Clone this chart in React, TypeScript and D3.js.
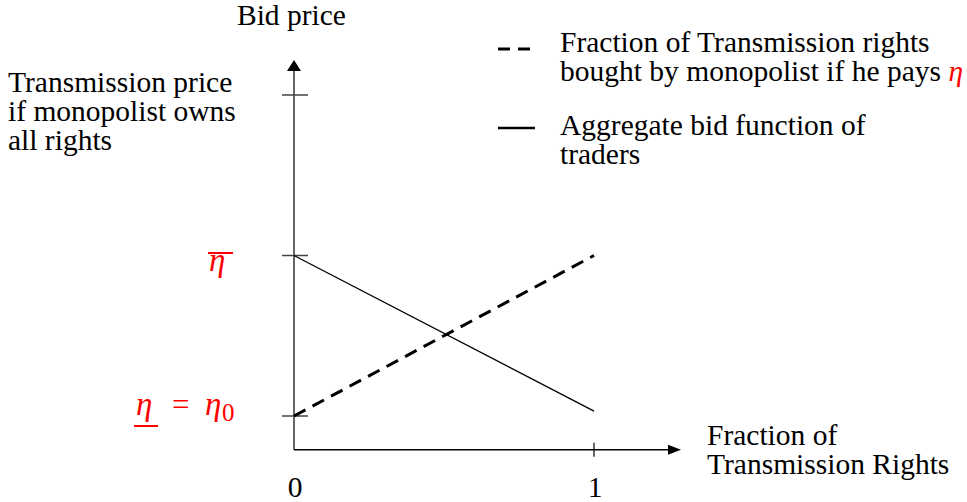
import React from 'react';
import * as d3 from 'd3';

// chart values
const fractions = [0, 1];
const bidFunction = [2, 1.03]; // aggregate bid function of traders
const monopolistFraction = [1, 2]; // fraction bought by monopolist if he pays eta
const yTicks = [1, 2, 3]; // eta0, eta-bar, transmission price if monopolist owns all
const xTicks = [1];
const xTickLabels = ['0', '1'];
const axisOrigin = 0.79;

const legendDashed = ['Fraction of Transmission rights', 'bought by monopolist if he pays '];
const legendSolid = ['Aggregate bid function of', 'traders'];
const leftLabel = ['Transmission price', 'if monopolist owns', 'all rights'];
const xTitle = ['Fraction of', 'Transmission Rights'];

const App = () => {
  const width = 967;
  const height = 502;
  const font = "'Liberation Serif', 'Times New Roman', Times, 'DejaVu Serif', serif";

  const x = d3.scaleLinear().domain([0, 1]).range([294, 594]);
  const y = d3.scaleLinear().domain([1, 3]).range([416, 95]);

  const x0 = x(0);
  const y0 = y(axisOrigin);

  const line = d3.line<[number, number]>()
    .x(d => x(d[0]))
    .y(d => y(d[1]));

  const solidPts = fractions.map((f, i) => [f, bidFunction[i]] as [number, number]);
  const dashPts = fractions.map((f, i) => [f, monopolistFraction[i]] as [number, number]);

  return (
    <svg width={width} height={height} style={{ position: 'absolute', left: 0, top: 0, fontFamily: font, fontSize: 29.5 }}>
      <rect width={width} height={height} fill="#fff" />

      {/* y axis */}
      <line x1={x0} y1={y0} x2={x0} y2={70} stroke="#666" strokeWidth={2} />
      <path d={`M${x0},60 L${x0 - 7},71 L${x0 + 7},71 Z`} fill="#000" />
      {yTicks.map(t => (
        <line key={t} x1={x0 - 12} x2={x0 + 14} y1={y(t)} y2={y(t)} stroke="#444" strokeWidth={1.5} />
      ))}

      {/* x axis */}
      <line x1={x0} y1={y0} x2={670} y2={y0} stroke="#000" strokeWidth={1.5} />
      <path d={`M681,${y0} L668,${y0 - 5} L668,${y0 + 5} Z`} fill="#000" />
      {xTicks.map(t => (
        <line key={t} x1={x(t)} x2={x(t)} y1={y0 - 7} y2={y0 + 7} stroke="#000" strokeWidth={1.2} />
      ))}
      {xTickLabels.map((l, i) => (
        <text key={l} x={x(i) + 1} y={497} textAnchor="middle">{l}</text>
      ))}

      {/* lines */}
      <path d={line(solidPts) || ''} fill="none" stroke="#000" strokeWidth={1.3} />
      <path d={line(dashPts) || ''} fill="none" stroke="#000" strokeWidth={3} strokeDasharray="13,8" />

      {/* titles */}
      <text x={237} y={25}>Bid price</text>
      {leftLabel.map((l, i) => (
        <text key={l} x={8} y={92 + i * 29}>{l}</text>
      ))}
      {xTitle.map((l, i) => (
        <text key={l} x={707} y={445 + i * 29}>{l}</text>
      ))}

      {/* legend */}
      <line x1={498} x2={510} y1={49} y2={49} stroke="#000" strokeWidth={3} />
      <line x1={518} x2={530} y1={49} y2={49} stroke="#000" strokeWidth={3} />
      <text x={560} y={52}>{legendDashed[0]}</text>
      <text x={560} y={81}>
        {legendDashed[1]}
        <tspan fill="red" fontStyle="italic">η</tspan>
      </text>
      <line x1={498} x2={535} y1={128} y2={128} stroke="#000" strokeWidth={2.5} />
      {legendSolid.map((l, i) => (
        <text key={l} x={560} y={135 + i * 29}>{l}</text>
      ))}

      {/* red eta labels */}
      <g fill="red">
        <line x1={208} x2={233} y1={253} y2={253} stroke="red" strokeWidth={2} />
        <text x={209} y={271} fontStyle="italic" fontSize={33}>η</text>
        <text x={136} y={415} fontStyle="italic" fontSize={33}>η</text>
        <line x1={134} x2={158} y1={426} y2={426} stroke="red" strokeWidth={2} />
        <text x={172} y={415} fontSize={31}>=</text>
        <text x={205} y={415} fontStyle="italic" fontSize={33}>η</text>
        <text x={222} y={421} fontSize={25}>0</text>
      </g>
    </svg>
  );
};

export default App;
